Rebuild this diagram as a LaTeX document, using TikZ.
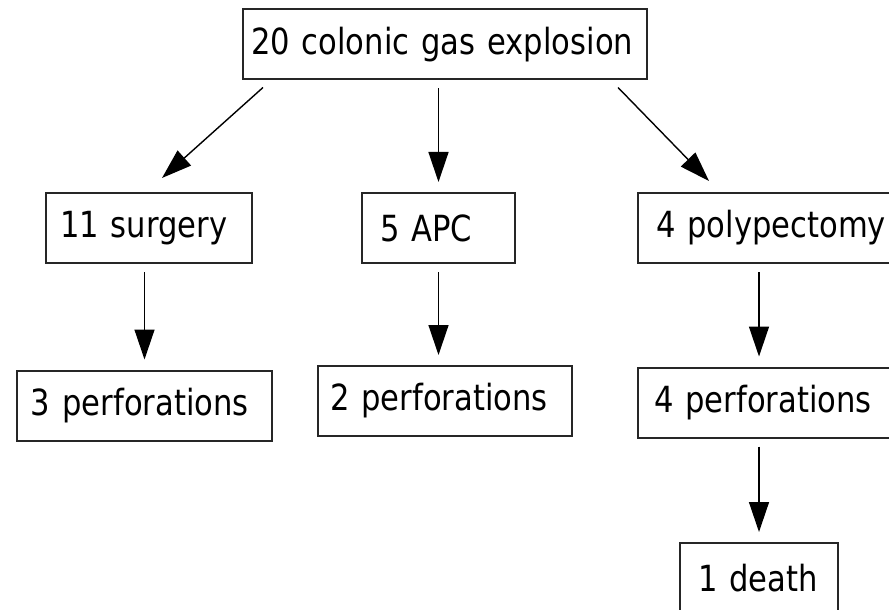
\documentclass[tikz,border=0pt]{standalone}
\usepackage{fontspec}
\setmainfont{DejaVu Sans}[FakeStretch=0.85]
\usetikzlibrary{arrows.meta}

\tikzset{
    box/.style={draw=black!85, line width=1pt, rectangle, align=left,
        inner xsep=7pt, minimum height=35pt, font=\fontsize{18}{21}\selectfont},
    arr/.style={line width=0.7pt, -{Triangle[length=15pt,width=10pt]}},
    vgap/.style={shorten <=4pt, shorten >=5pt}
}

\begin{document}
\begin{tikzpicture}[x=0.5pt,y=-0.5pt]
    \useasboundingbox (0,0) rectangle (889,610);
    \clip (0,0) rectangle (889,610);
    % top level
    \node[box, inner xsep=4pt, text width=194pt] (gas) at (445,44.5) {20 colonic gas explosion};
    % treatments
    \node[box, text width=89pt] (sur) at (149,228) {11 surgery};
    \node[box, inner xsep=9pt, text width=58.5pt] (apc) at (438.5,228) {5 APC};
    \node[box, inner xsep=9pt, text width=122pt] (pol) at (778,228) {4 polypectomy};
    % outcomes
    \node[box, text width=113.5pt] (pfa) at (144.5,405.5) {3 perforations};
    \node[box, inner xsep=6pt, text width=115pt] (pfb) at (445,401) {2 perforations};
    \node[box, inner xsep=8pt, text width=124pt] (pfc) at (778,402.5) {4 perforations};
    \node[box, inner xsep=9pt, text width=61pt] (dth) at (759,578) {1 death};
    % arrows
    \draw[arr] ([xshift=-91pt,yshift=-3.5pt]gas.south) -- ([xshift=6.5pt,yshift=7pt]sur.north);
    \draw[arr,vgap] (gas.south -| apc.north) -- (apc.north);
    \draw[arr] ([xshift=86.5pt,yshift=-3.5pt]gas.south) -- ([xshift=36pt,yshift=5.5pt]pol.north west);
    \draw[arr,vgap] (sur.south -| pfa.north) -- (pfa.north);
    \draw[arr,vgap] (apc.south) -- (apc.south |- pfb.north);
    \draw[arr,vgap] (pol.south -| dth.north) -- (pfc.north -| dth.north);
    \draw[arr,vgap] (pfc.south -| dth.north) -- (dth.north);
\end{tikzpicture}
\end{document}
